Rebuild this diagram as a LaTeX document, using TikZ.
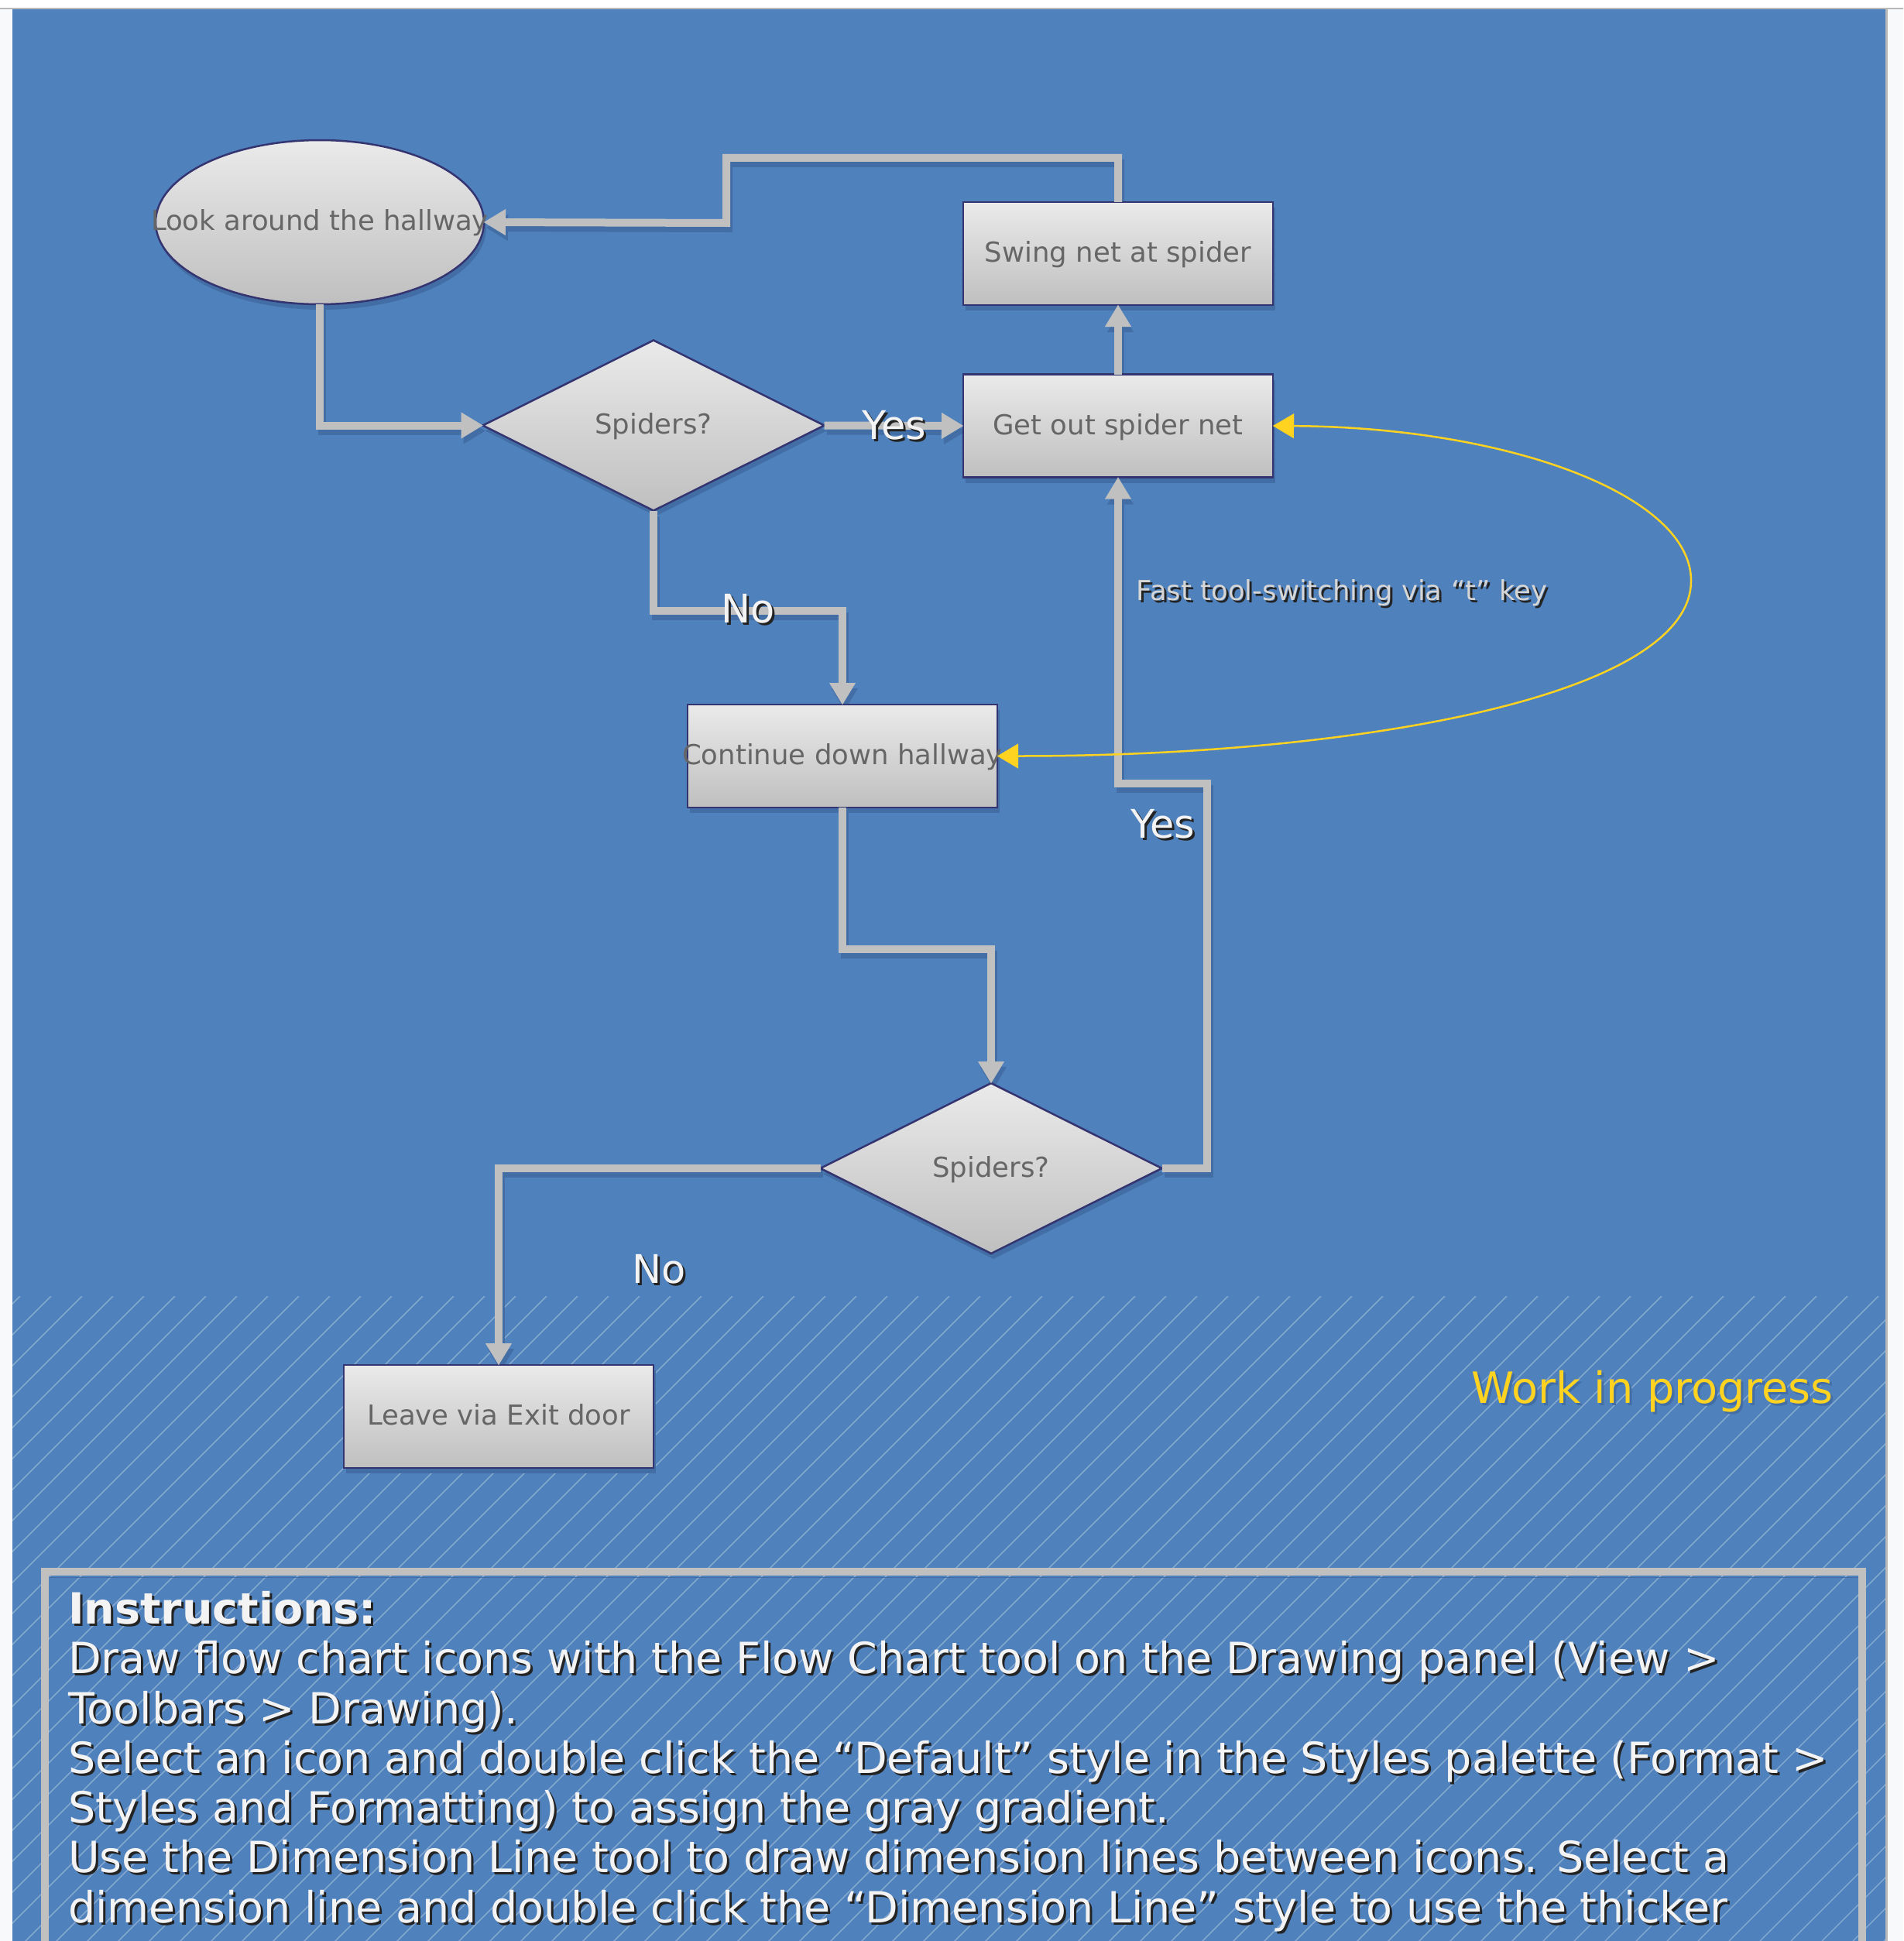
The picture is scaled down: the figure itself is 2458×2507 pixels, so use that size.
\documentclass[tikz,border=0pt]{standalone}
\usepackage{fontspec}
\setmainfont{DejaVu Sans}
\usetikzlibrary{shapes.geometric,arrows.meta,shadows}
\definecolor{bgblue}{RGB}{79,129,189}
\definecolor{shblue}{RGB}{67,110,165}
\definecolor{linegray}{RGB}{192,192,192}
\definecolor{gtop}{RGB}{234,234,234}
\definecolor{gbot}{RGB}{191,191,191}
\definecolor{nodeborder}{RGB}{52,52,112}
\definecolor{nodetext}{RGB}{102,102,102}
\definecolor{wipyellow}{RGB}{255,211,32}
\definecolor{pagegray}{RGB}{248,249,250}
\definecolor{edgegray}{RGB}{185,185,185}
\definecolor{labeltext}{RGB}{243,243,243}
\definecolor{notetext}{RGB}{214,214,214}
\definecolor{txtshadow}{RGB}{35,35,35}
\newcommand{\shd}[2][txtshadow]{\leavevmode\rlap{\kern3pt\raisebox{-3pt}{\textcolor{#1}{#2}}}#2}
\pgfdeclarelayer{back}
\pgfdeclarelayer{conns}
\pgfdeclarelayer{front}
\pgfsetlayers{back,conns,main,front}
\tikzset{
  flownode/.style={draw=nodeborder, line width=2.5pt, top color=gtop, bottom color=gbot,
    text=nodetext, font=\fontsize{35.5}{42}\selectfont, inner sep=0pt, outer sep=0pt,
    text height=28pt, text depth=6pt,
    drop shadow={shadow xshift=3pt, shadow yshift=-7pt, fill=shblue, opacity=1}},
  boxnode/.style={flownode, rectangle, minimum width=400pt, minimum height=133pt},
  decnode/.style={flownode, diamond, minimum width=441pt, minimum height=220pt},
  termnode/.style={flownode, ellipse, minimum width=424pt, minimum height=212pt},
  conn/.style={draw=linegray, line width=10pt,
    -{Triangle[length=28pt,width=34pt,line width=0.1pt]}},
  connshadow/.style={conn, draw=shblue, transform canvas={shift={(3,7)}}},
  framestyle/.style={draw=linegray, line width=10pt,
    preaction={draw=shblue, transform canvas={shift={(3,7)}}}},
  yconn/.style={draw=wipyellow, line width=2.5pt,
    {Triangle[length=27pt,width=32pt,line width=0.1pt]}-{Triangle[length=27pt,width=32pt,line width=0.1pt]}},
  lbl/.style={text=labeltext, font=\fontsize{51}{60}\selectfont, inner sep=0pt, anchor=base},
  instr/.style={text=labeltext, font=\fontsize{55.5}{64}\selectfont, inner sep=0pt, anchor=base west},
}
\newcommand{\flowconnectors}[1]{%
  \draw[#1] (swing.north) -- (1444,204) -- (938,204) -- (938,288) -- (look.east);
  \draw[#1] (look.south) |- (spid1.west);
  \draw[#1] (spid1.east) -- (getout.west);
  \draw[#1] (getout.north) -- (swing.south);
  \draw[#1] (spid1.south) -- (844,789) -- (1088,789) -- (cont.north);
  \draw[#1] (cont.south) -- (1088,1226) -- (1280,1226) -- (spid2.north);
  \draw[#1] (spid2.east) -- (1559,1509) -- (1559,1012) -- (1444,1012) -- (getout.south);
  \draw[#1] (spid2.west) -| (leave.north);
}
\begin{document}
\begin{tikzpicture}[x=1pt,y=-1pt]
\useasboundingbox (0,0) rectangle (2458,2507);
\begin{pgfonlayer}{back}
  \fill[white] (0,0) rectangle (2458,2507);
  \fill[pagegray] (0,11) rectangle (2458,2507);
  \fill[bgblue] (16,12) rectangle (2435,2507);
  \draw[edgegray, line width=1.5pt] (0,11) -- (2458,11);
  \draw[edgegray, line width=3pt] (2436.5,12) -- (2436.5,2507);
  \begin{scope}
    \clip (16,1674) rectangle (2435,2507);
    \foreach \c in {1700,1740,...,4940}
      \draw[white, opacity=0.3, line width=1.5pt] ({\c-2507},2507) -- ({\c-1674},1674);
  \end{scope}
\end{pgfonlayer}

% nodes
\node[termnode] (look) at (413,287) {\makebox[0pt]{Look around the hallway}};
\node[boxnode] (swing) at (1444,327.5) {\makebox[0pt]{Swing net at spider}};
\node[boxnode] (getout) at (1444,550) {\makebox[0pt]{Get out spider net}};
\node[decnode] (spid1) at (844,549.5) {\makebox[0pt]{Spiders?}};
\node[boxnode] (cont) at (1088,976.5) {\makebox[0pt]{Continue down hallway}};
\node[decnode] (spid2) at (1280,1509) {\makebox[0pt]{Spiders?}};
\node[boxnode] (leave) at (644,1829.5) {\makebox[0pt]{Leave via Exit door}};

\coordinate (loopR) at (2184,750);

\begin{pgfonlayer}{conns}
  \flowconnectors{connshadow}
  \draw[framestyle] (58,2507) -- (58,2030) -- (2405,2030) -- (2405,2507);
\end{pgfonlayer}

\begin{pgfonlayer}{front}
  \flowconnectors{conn}
  \draw[yconn] (getout.east) .. controls (1950,552) and (2184,640) .. (loopR)
     .. controls (2184,900) and (1750,976.5) .. (cont.east);
  % labels
  \node[lbl] (yes1) at (1155,567) {\shd{Yes}};
  \node[lbl] (no1) at (966,804) {\shd{No}};
  \node[lbl] (yes2) at (1502,1082) {\shd{Yes}};
  \node[lbl] (no2) at (851,1657) {\shd{No}};
\end{pgfonlayer}

\node[anchor=base, text=notetext, font=\fontsize{35.5}{42}\selectfont, inner sep=0pt] (tip) at (1733,775) {\shd{Fast tool-switching via “t” key}};
\node[anchor=base, text=wipyellow, font=\fontsize{55.7}{64}\selectfont, inner sep=0pt] (wip) at (2134,1812) {\shd[shblue]{Work in progress}};

% instructions
\node[instr] (in1) at (88,2097) {\bfseries\shd{Instructions:}};
\node[instr] (in2) at (88,2161) {\shd{Draw flow chart icons with the Flow Chart tool on the Drawing panel (View >}};
\node[instr] (in3) at (88,2226) {\shd{Toolbars > Drawing).}};
\node[instr] (in4) at (88,2290) {\shd{Select an icon and double click the “Default” style in the Styles palette (Format >}};
\node[instr] (in5) at (88,2354) {\shd{Styles and Formatting) to assign the gray gradient.}};
\node[instr] (in6) at (88,2418) {\shd{Use the Dimension Line tool to draw dimension lines between icons. Select a}};
\node[instr] (in7) at (88,2483) {\shd{dimension line and double click the “Dimension Line” style to use the thicker}};
\end{tikzpicture}
\end{document}
